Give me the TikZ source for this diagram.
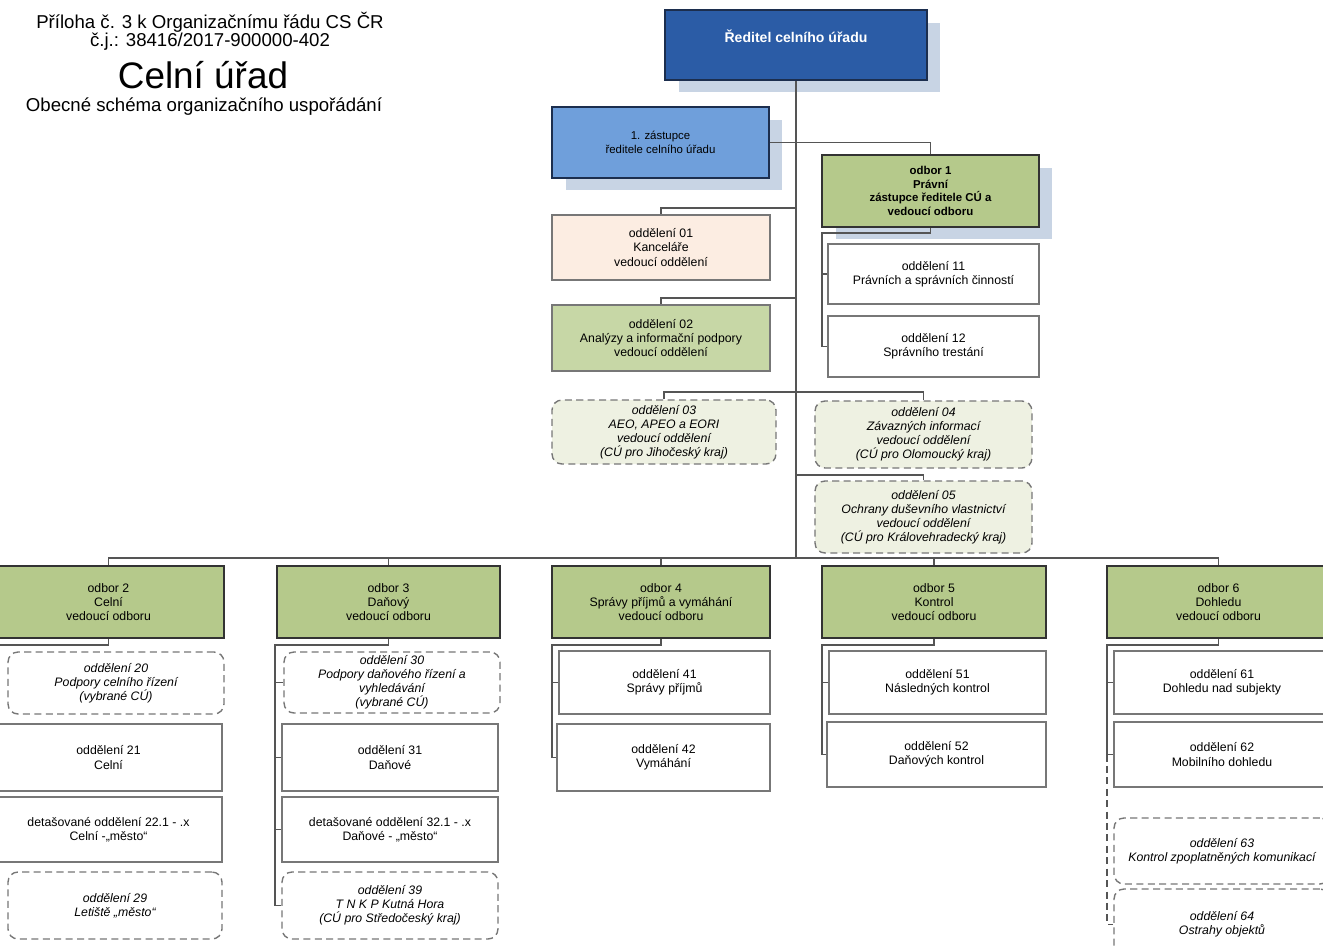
\documentclass[tikz,border=0pt]{standalone}
\usepackage{fontspec}
\setmainfont{Liberation Sans}
\usetikzlibrary{shadows}
\definecolor{reditelblue}{HTML}{2B5CA6}
\definecolor{reditelline}{HTML}{1C2E4E}
\definecolor{zastblue}{HTML}{6F9FDB}
\definecolor{shadowblue}{HTML}{C8D4E4}
\definecolor{odborgreen}{HTML}{B5C98B}
\definecolor{oddgreen}{HTML}{C7D7A6}
\definecolor{oddpeach}{HTML}{FCEDE2}
\definecolor{oddpale}{HTML}{EEF1E2}
\definecolor{boxdark}{HTML}{333333}
\definecolor{boxgray}{HTML}{777777}
\definecolor{linegray}{HTML}{555555}
\tikzstyle{line} = [draw=linegray, line width=0.6pt]
\tikzstyle{box} = [rectangle, align=center, inner sep=1pt, font=\fontsize{7}{8}\selectfont]
\tikzstyle{odborbox} = [box, fill=odborgreen, draw=boxdark, line width=0.9pt]
\tikzstyle{oddbox} = [box, fill=white, draw=boxgray, line width=0.8pt]
\tikzstyle{dashbox} = [box, fill=white, draw=boxgray, dash pattern=on 4pt off 2.5pt,
  rounded corners=0.2cm, line width=0.8pt, font=\fontsize{7}{8}\selectfont\itshape]
\tikzstyle{shadowed} = [drop shadow={shadow xshift=0.27cm, shadow yshift=-0.25cm,
  fill=shadowblue, opacity=1}]
\tikzstyle{head} = [font=\fontsize{10.6}{12}\selectfont]

\begin{document}
\begin{tikzpicture}[x=0.02cm, y=-0.02cm]
  \useasboundingbox (0,0) rectangle (1323,947);
  \clip (0,0) rectangle (1323,947);
  % header
  \node[head] (hdr1) at (210,22) {Příloha č. 3 k Organizačnímu řádu CS ČR};
  \node[head] (hdr2) at (210,42) {č.j.: 38416/2017-900000-402};
  \node[font=\fontsize{21}{24}\selectfont] (hdr3) at (203,75) {Celní úřad};
  \node[head] (hdr4) at (204,107) {Obecné schéma organizačního uspořádání};

  % top of the tree
  \node[box, shadowed, fill=reditelblue, draw=reditelline, line width=1.2pt, text=white,
    font=\fontsize{8}{10}\selectfont\bfseries, minimum width=5.24cm, minimum height=1.4cm]
    (red) at (796,45) {Ředitel celního úřadu\\\mbox{}};
  \node[box, shadowed, fill=zastblue, draw=reditelline, line width=0.9pt,
    font=\fontsize{6.5}{7.8}\selectfont, minimum width=4.34cm, minimum height=1.42cm]
    (zast) at (660.5,142.5) {1. zástupce\\ředitele celního úřadu};
  \node[odborbox, shadowed, font=\fontsize{6.5}{7.8}\selectfont\bfseries,
    minimum width=4.34cm, minimum height=1.44cm]
    (o1) at (930.5,191) {odbor 1\\Právní\\zástupce ředitele CÚ a\\vedoucí odboru};
  \node[oddbox, fill=oddpeach, minimum width=4.36cm, minimum height=1.3cm]
    (d01) at (661,247.5) {oddělení 01\\Kanceláře\\vedoucí oddělení};
  \node[oddbox, fill=oddgreen, minimum width=4.36cm, minimum height=1.32cm]
    (d02) at (661,338) {oddělení 02\\Analýzy a informační podpory\\vedoucí oddělení};
  \node[oddbox, minimum width=4.22cm, minimum height=1.2cm]
    (d11) at (933.5,274) {oddělení 11\\Právních a správních činností};
  \node[oddbox, minimum width=4.22cm, minimum height=1.22cm]
    (d12) at (933.5,346.5) {oddělení 12\\Správního trestání};
  \node[dashbox, fill=oddpale, minimum width=4.48cm, minimum height=1.28cm]
    (d03) at (664,432) {oddělení 03\\AEO, APEO a EORI\\vedoucí oddělení\\(CÚ pro Jihočeský kraj)};
  \node[dashbox, fill=oddpale, minimum width=4.34cm, minimum height=1.34cm]
    (d04) at (923.5,434.5) {oddělení 04\\Závazných informací\\vedoucí oddělení\\(CÚ pro Olomoucký kraj)};
  \node[dashbox, fill=oddpale, minimum width=4.34cm, minimum height=1.44cm]
    (d05) at (923.5,517) {oddělení 05\\Ochrany duševního vlastnictví\\vedoucí oddělení\\(CÚ pro Královehradecký kraj)};

  % odbory
  \node[odborbox, minimum width=4.62cm, minimum height=1.44cm]
    (o2) at (108.5,602) {odbor 2\\Celní\\vedoucí odboru};
  \node[odborbox, minimum width=4.46cm, minimum height=1.44cm]
    (o3) at (388.5,602) {odbor 3\\Daňový\\vedoucí odboru};
  \node[odborbox, minimum width=4.36cm, minimum height=1.44cm]
    (o4) at (661,602) {odbor 4\\Správy příjmů a vymáhání\\vedoucí odboru};
  \node[odborbox, minimum width=4.48cm, minimum height=1.44cm]
    (o5) at (934,602) {odbor 5\\Kontrol\\vedoucí odboru};
  \node[odborbox, minimum width=4.46cm, minimum height=1.44cm]
    (o6) at (1218.5,602) {odbor 6\\Dohledu\\vedoucí odboru};

  % odbor 2
  \node[dashbox, minimum width=4.32cm, minimum height=1.24cm]
    (d20) at (116,683) {oddělení 20\\Podpory celního řízení\\(vybrané CÚ)};
  \node[oddbox, minimum width=4.54cm, minimum height=1.34cm]
    (d21) at (108.5,757.5) {oddělení 21\\Celní};
  \node[oddbox, minimum width=4.54cm, minimum height=1.3cm]
    (d22) at (108.5,829.5) {detašované oddělení 22.1 - .x\\Celní -„město“};
  \node[dashbox, minimum width=4.28cm, minimum height=1.34cm]
    (d29) at (115,905.5) {oddělení 29\\Letiště „město“};
  % odbor 3
  \node[dashbox, minimum width=4.32cm, minimum height=1.22cm]
    (d30) at (392,682.5) {oddělení 30\\Podpory daňového řízení a\\vyhledávání\\(vybrané CÚ)};
  \node[oddbox, minimum width=4.32cm, minimum height=1.34cm]
    (d31) at (390,757.5) {oddělení 31\\Daňové};
  \node[oddbox, minimum width=4.32cm, minimum height=1.3cm]
    (d32) at (390,829.5) {detašované oddělení 32.1 - .x\\Daňové  - „město“};
  \node[dashbox, minimum width=4.32cm, minimum height=1.34cm]
    (d39) at (390,905.5) {oddělení 39\\T N K P  Kutná Hora\\(CÚ pro Středočeský kraj)};
  % odbor 4
  \node[oddbox, minimum width=4.22cm, minimum height=1.26cm]
    (d41) at (664.5,682.5) {oddělení 41\\Správy příjmů};
  \node[oddbox, minimum width=4.26cm, minimum height=1.34cm]
    (d42) at (663.5,757.5) {oddělení 42\\Vymáhání};
  % odbor 5
  \node[oddbox, minimum width=4.34cm, minimum height=1.26cm]
    (d51) at (937.5,682.5) {oddělení 51\\Následných kontrol};
  \node[oddbox, minimum width=4.38cm, minimum height=1.3cm]
    (d52) at (936.5,754.5) {oddělení 52\\Daňových kontrol};
  % odbor 6
  \node[oddbox, minimum width=4.32cm, minimum height=1.26cm]
    (d61) at (1222,682.5) {oddělení 61\\Dohledu nad subjekty};
  \node[oddbox, minimum width=4.32cm, minimum height=1.3cm]
    (d62) at (1222,754.5) {oddělení 62\\Mobilního dohledu};
  \node[dashbox, minimum width=4.32cm, minimum height=1.32cm]
    (d63) at (1222,851) {oddělení 63\\Kontrol zpoplatněných komunikací};
  \node[dashbox, minimum width=4.32cm, minimum height=1.42cm]
    (d64) at (1222,924.5) {oddělení 64\\Ostrahy objektů};

  % junctions
  \coordinate (bus) at (795,558);
  \coordinate (j01) at (795,208);
  \coordinate (j02) at (795,298);
  \coordinate (j34) at (795,392);
  \coordinate (j05) at (795,475);
  \coordinate (k1) at (822,233);
  \coordinate (s2) at (-5,645);
  \coordinate (s3) at (275,645);
  \coordinate (s4) at (552,645);
  \coordinate (s5) at (822,645);
  \coordinate (s6) at (1107,645);

  % connectors
  \path[line] (red.south) -- (red.south |- bus);
  \path[line] (zast.east) -| (o1.north);
  \path[line] (j01) -| (d01.north);
  \path[line] (j02) -| (d02.north);
  \path[line] (d03.north) |- (j34) -| (d04.north);
  \path[line] (j05) -| (d05.north);
  \path[line] (o1.south) |- (k1) |- (d12.west);
  \path[line] (k1 |- d11.west) -- (d11.west);
  \path[line] (o2.north) |- (bus) -| (o6.north);
  \foreach \o in {o3,o4,o5}
    \path[line] (\o.north) -- (\o.north |- bus);
  \path[line] (o2.south) |- (s2);
  \path[line] (o3.south) |- (s3) |- (d39.west);
  \foreach \d in {d30,d31,d32}
    \path[line] (s3 |- \d.west) -- (\d.west);
  \path[line] (o4.south) |- (s4) |- (d42.west);
  \path[line] (s4 |- d41.west) -- (d41.west);
  \path[line] (o5.south) |- (s5) |- (d52.west);
  \path[line] (s5 |- d51.west) -- (d51.west);
  \path[line] (o6.south) |- (s6) |- (d62.west);
  \path[line] (s6 |- d61.west) -- (d61.west);
  \path[line, dash pattern=on 4pt off 2.5pt] (s6 |- d62.west) |- (d64.west);
\end{tikzpicture}
\end{document}
